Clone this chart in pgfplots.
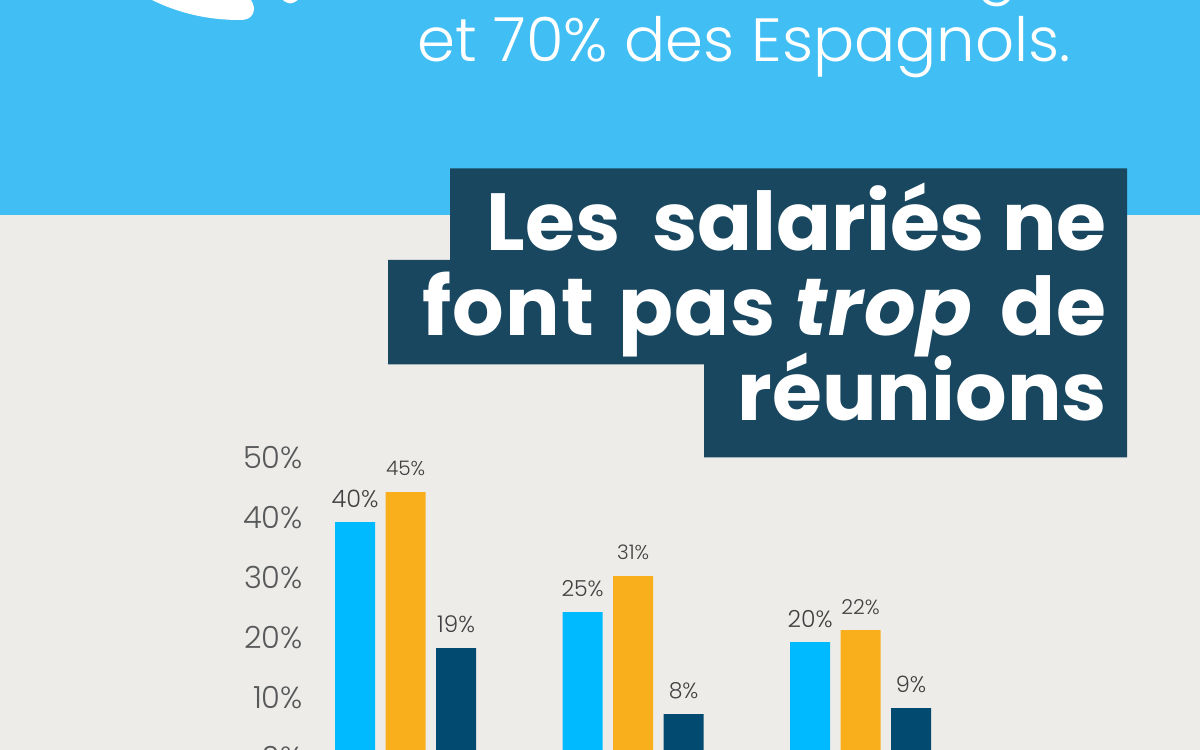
\documentclass[border=0pt]{standalone}
\usepackage{pgfplots}
\pgfplotsset{compat=1.18}
\usepackage{fontspec}
\setmainfont{Poppins}
\newfontfamily\lightf{Poppins Light}
\newfontfamily\boldf{Poppins}[UprightFont=* Bold,ItalicFont=* Bold Italic]
\definecolor{bgblue}{HTML}{41BEF3}
\definecolor{bggrey}{HTML}{EDECE8}
\definecolor{boxblue}{HTML}{18475F}
\definecolor{barblue}{HTML}{00BAFF}
\definecolor{barorange}{HTML}{F9AE1C}
\definecolor{bardark}{HTML}{024A70}
\definecolor{tickgrey}{HTML}{58595B}
\definecolor{labgrey}{HTML}{414042}
\pgfplotstableread{
x y fs
0 40 24
1 25 22
2 20 23.5
}\tblue
\pgfplotstableread{
x y fs
0 45 20
1 31 20
2 22 20.5
}\torange
\pgfplotstableread{
x y fs
0 19 23
1 8 22
2 9 22.5
}\tdark
\pgfplotsset{barstyle/.style={
  visualization depends on={\thisrow{fs} \as \fs},
  nodes near coords={\fontsize{\fs pt}{\fs pt}\selectfont\lightf\pgfmathprintnumber{\pgfplotspointmeta}\%},
  every node near coord/.append style={anchor=center,xshift=#1,yshift=23.3pt,text=labgrey,inner sep=0pt},
}}
\begin{document}
\begin{tikzpicture}[x=1pt,y=1pt]
\clip (0,0) rectangle (1200,750);
\begin{scope}[shift={(0,750)},y=-1pt]
\fill[bggrey] (0,215) rectangle (1200,750);
\fill[bgblue] (0,0) rectangle (1200,215);
\fill[white] (148,-2) .. controls (175,12) and (205,20) .. (240,20)
  .. controls (250,20) and (254,15) .. (254,9) .. controls (254,5) and (252,2) .. (250,-2) -- cycle;
\fill[white] (281,-2) .. controls (285,3) and (291,7) .. (300,-2) -- cycle;
\node[anchor=base,inner sep=0pt,text=white] at (997,-9) {\fontsize{61}{61}\selectfont\lightf g};
\node[anchor=base east,inner sep=0pt,text=white] at (1071,62) {\fontsize{61}{61}\selectfont\lightf et 70\% des Espagnols.};
\fill[boxblue] (450,168.5) -- (1127,168.5) -- (1127,457.5) -- (704,457.5) -- (704,364.5) -- (388,364.5) -- (388,260) -- (450,260) -- cycle;
\node[anchor=base east,inner sep=0pt,text=white] at (1107,250.7) {\fontsize{81}{81}\selectfont\boldf Les\hspace{15pt} salariés ne};
\node[anchor=base east,inner sep=0pt,text=white] at (1107,335.7) {\fontsize{81}{81}\selectfont\boldf\addfontfeature{LetterSpace=1.5}font\hspace{6pt} pas \textit{trop}\hspace{9pt} de};
\node[anchor=base east,inner sep=0pt,text=white] at (1107,420.7) {\fontsize{81}{81}\selectfont\boldf réunions};
\end{scope}
\begin{axis}[
  at={(309.6pt,-12pt)}, anchor=south west,
  scale only axis, width=664.75pt, height=300pt,
  xmin=-0.422, xmax=2.5, ymin=0, ymax=50,
  axis x line=none, axis y line*=left, clip=false,
  y axis line style={draw=none}, major tick length=0pt,
  ytick={0,10,20,30,40,50}, xtick=\empty,
  /pgf/number format/assume math mode=true,
  yticklabel={\pgfmathprintnumber{\tick}\%},
  yticklabel style={font=\fontsize{30.5}{30.5}\selectfont\lightf, text=tickgrey, yshift=4.5pt, inner sep=0pt, anchor=east, xshift=-6.5pt},
  bar width=40pt,
]
\addplot[ybar, bar shift=-50.5pt, fill=barblue, draw=none, barstyle=-50.5pt] table[x=x,y=y] {\tblue};
\addplot[ybar, bar shift=0pt, fill=barorange, draw=none, barstyle=0pt] table[x=x,y=y] {\torange};
\addplot[ybar, bar shift=50.5pt, fill=bardark, draw=none, barstyle=50.5pt] table[x=x,y=y] {\tdark};
\end{axis}
\end{tikzpicture}
\end{document}
